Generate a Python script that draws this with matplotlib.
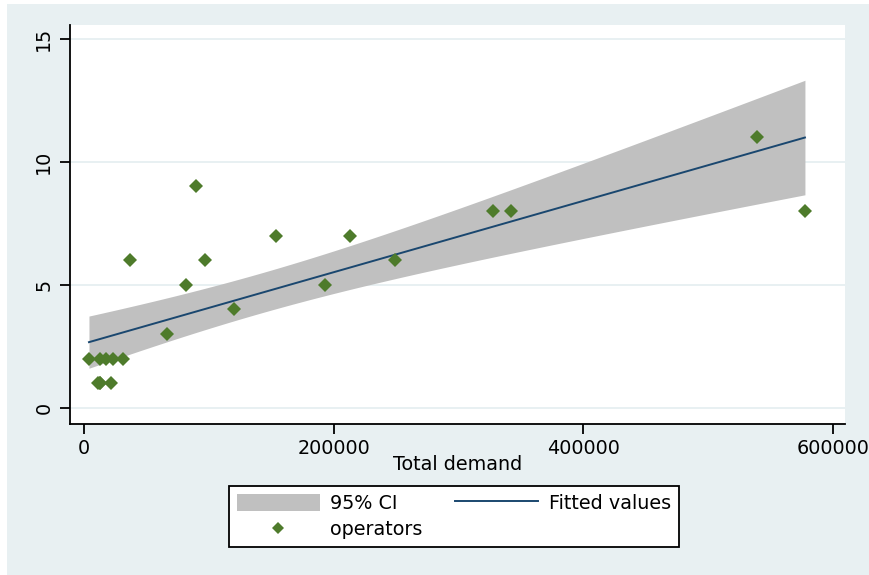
import numpy as np
import matplotlib
matplotlib.use("Agg")
import matplotlib.pyplot as plt
from matplotlib.patches import Patch, Rectangle
from matplotlib.lines import Line2D

plt.rcParams['font.family'] = ['DejaVu Sans']

# Observations: total demand vs number of operators (some markets coincide)
total_demand = [4000, 11000, 13000, 13000, 22000, 13000, 18000, 23000, 31000,
                37000, 66500, 81700, 89700, 97000, 120000, 153800, 193000,
                213000, 249000, 327700, 342000, 539000, 577700]
operators = [2, 1, 1, 1, 1, 2, 2, 2, 2,
             6, 3, 5, 9, 6, 4, 7, 5,
             7, 6, 8, 8, 11, 8]

x_ticks = [0, 200000, 400000, 600000]
y_ticks = [0, 5, 10, 15]

bg = '#E8F0F2'
grid_c = '#E4EEF0'
band_c = '#C0C0C0'
line_c = '#1A476F'
mark_c = '#4E7B2B'
fs = 13.8

x = np.asarray(total_demand, float)
y = np.asarray(operators, float)
n = len(x)

# OLS fit and 95% CI of the mean prediction
xbar, ybar = x.mean(), y.mean()
sxx = np.sum((x - xbar) ** 2)
b = np.sum((x - xbar) * (y - ybar)) / sxx
a = ybar - b * xbar
resid = y - (a + b * x)
s = np.sqrt(np.sum(resid ** 2) / (n - 2))
t_crit = 2.080  # t(0.975, 21)
xs = np.linspace(x.min(), x.max(), 100)
yhat = a + b * xs
se = s * np.sqrt(1.0 / n + (xs - xbar) ** 2 / sxx)
lo, hi = yhat - t_crit * se, yhat + t_crit * se

fig = plt.figure(figsize=(8.69, 5.75), dpi=100, facecolor='white')
fig.patches.append(Rectangle((7 / 869, 0), 1, 1 - 4 / 575, transform=fig.transFigure,
                             facecolor=bg, edgecolor='none', zorder=-10))

ax = fig.add_axes([70 / 869, 1 - 424 / 575, (845 - 70) / 869, (424 - 25) / 575])
ax.set_facecolor('white')

ax.fill_between(xs, lo, hi, color=band_c, linewidth=0, zorder=2)
ax.plot(xs, yhat, color=line_c, linewidth=1.4, zorder=3)
ax.plot(x, y, linestyle='none', marker='D', markersize=7.5, color=mark_c,
        markeredgewidth=0, zorder=4)

ax.set_xlim(-11200, 609800)
ax.set_ylim(-0.65, 15.55)
ax.set_xticks(x_ticks)
ax.set_xticklabels([str(v) for v in x_ticks])
ax.set_yticks(y_ticks)
ax.set_yticklabels([str(v) for v in y_ticks], rotation=90, va='center')

for v in y_ticks:
    ax.axhline(v, color=grid_c, linewidth=1.2, zorder=1)

for side in ['top', 'right']:
    ax.spines[side].set_visible(False)
for side in ['left', 'bottom']:
    ax.spines[side].set_linewidth(1.3)
    ax.spines[side].set_color('black')

ax.tick_params(axis='both', length=7, width=1.3, labelsize=fs, colors='black')
ax.tick_params(axis='y', pad=5)
ax.tick_params(axis='x', pad=4)
ax.set_xlabel('Total demand', fontsize=fs, labelpad=-2)

handles = [Patch(facecolor=band_c, edgecolor='none'),
           Line2D([], [], linestyle='none', marker='D', markersize=6, color=mark_c,
                  markeredgewidth=0),
           Line2D([], [], color=line_c, linewidth=1.4)]
labels = ['95% CI', 'operators', 'Fitted values']
leg = fig.legend(handles, labels, ncol=2, loc='center',
                 bbox_to_anchor=(454 / 869, 1 - 516.5 / 575),
                 fontsize=fs, frameon=True, fancybox=False, framealpha=1.0,
                 handlelength=4.3, handleheight=1.0, handletextpad=0.57,
                 columnspacing=1.7, labelspacing=0.38, borderpad=0.4)
leg.get_frame().set_facecolor('white')
leg.get_frame().set_edgecolor('black')
leg.get_frame().set_linewidth(1.3)

fig.savefig('out.png', dpi=100, facecolor=fig.get_facecolor())
